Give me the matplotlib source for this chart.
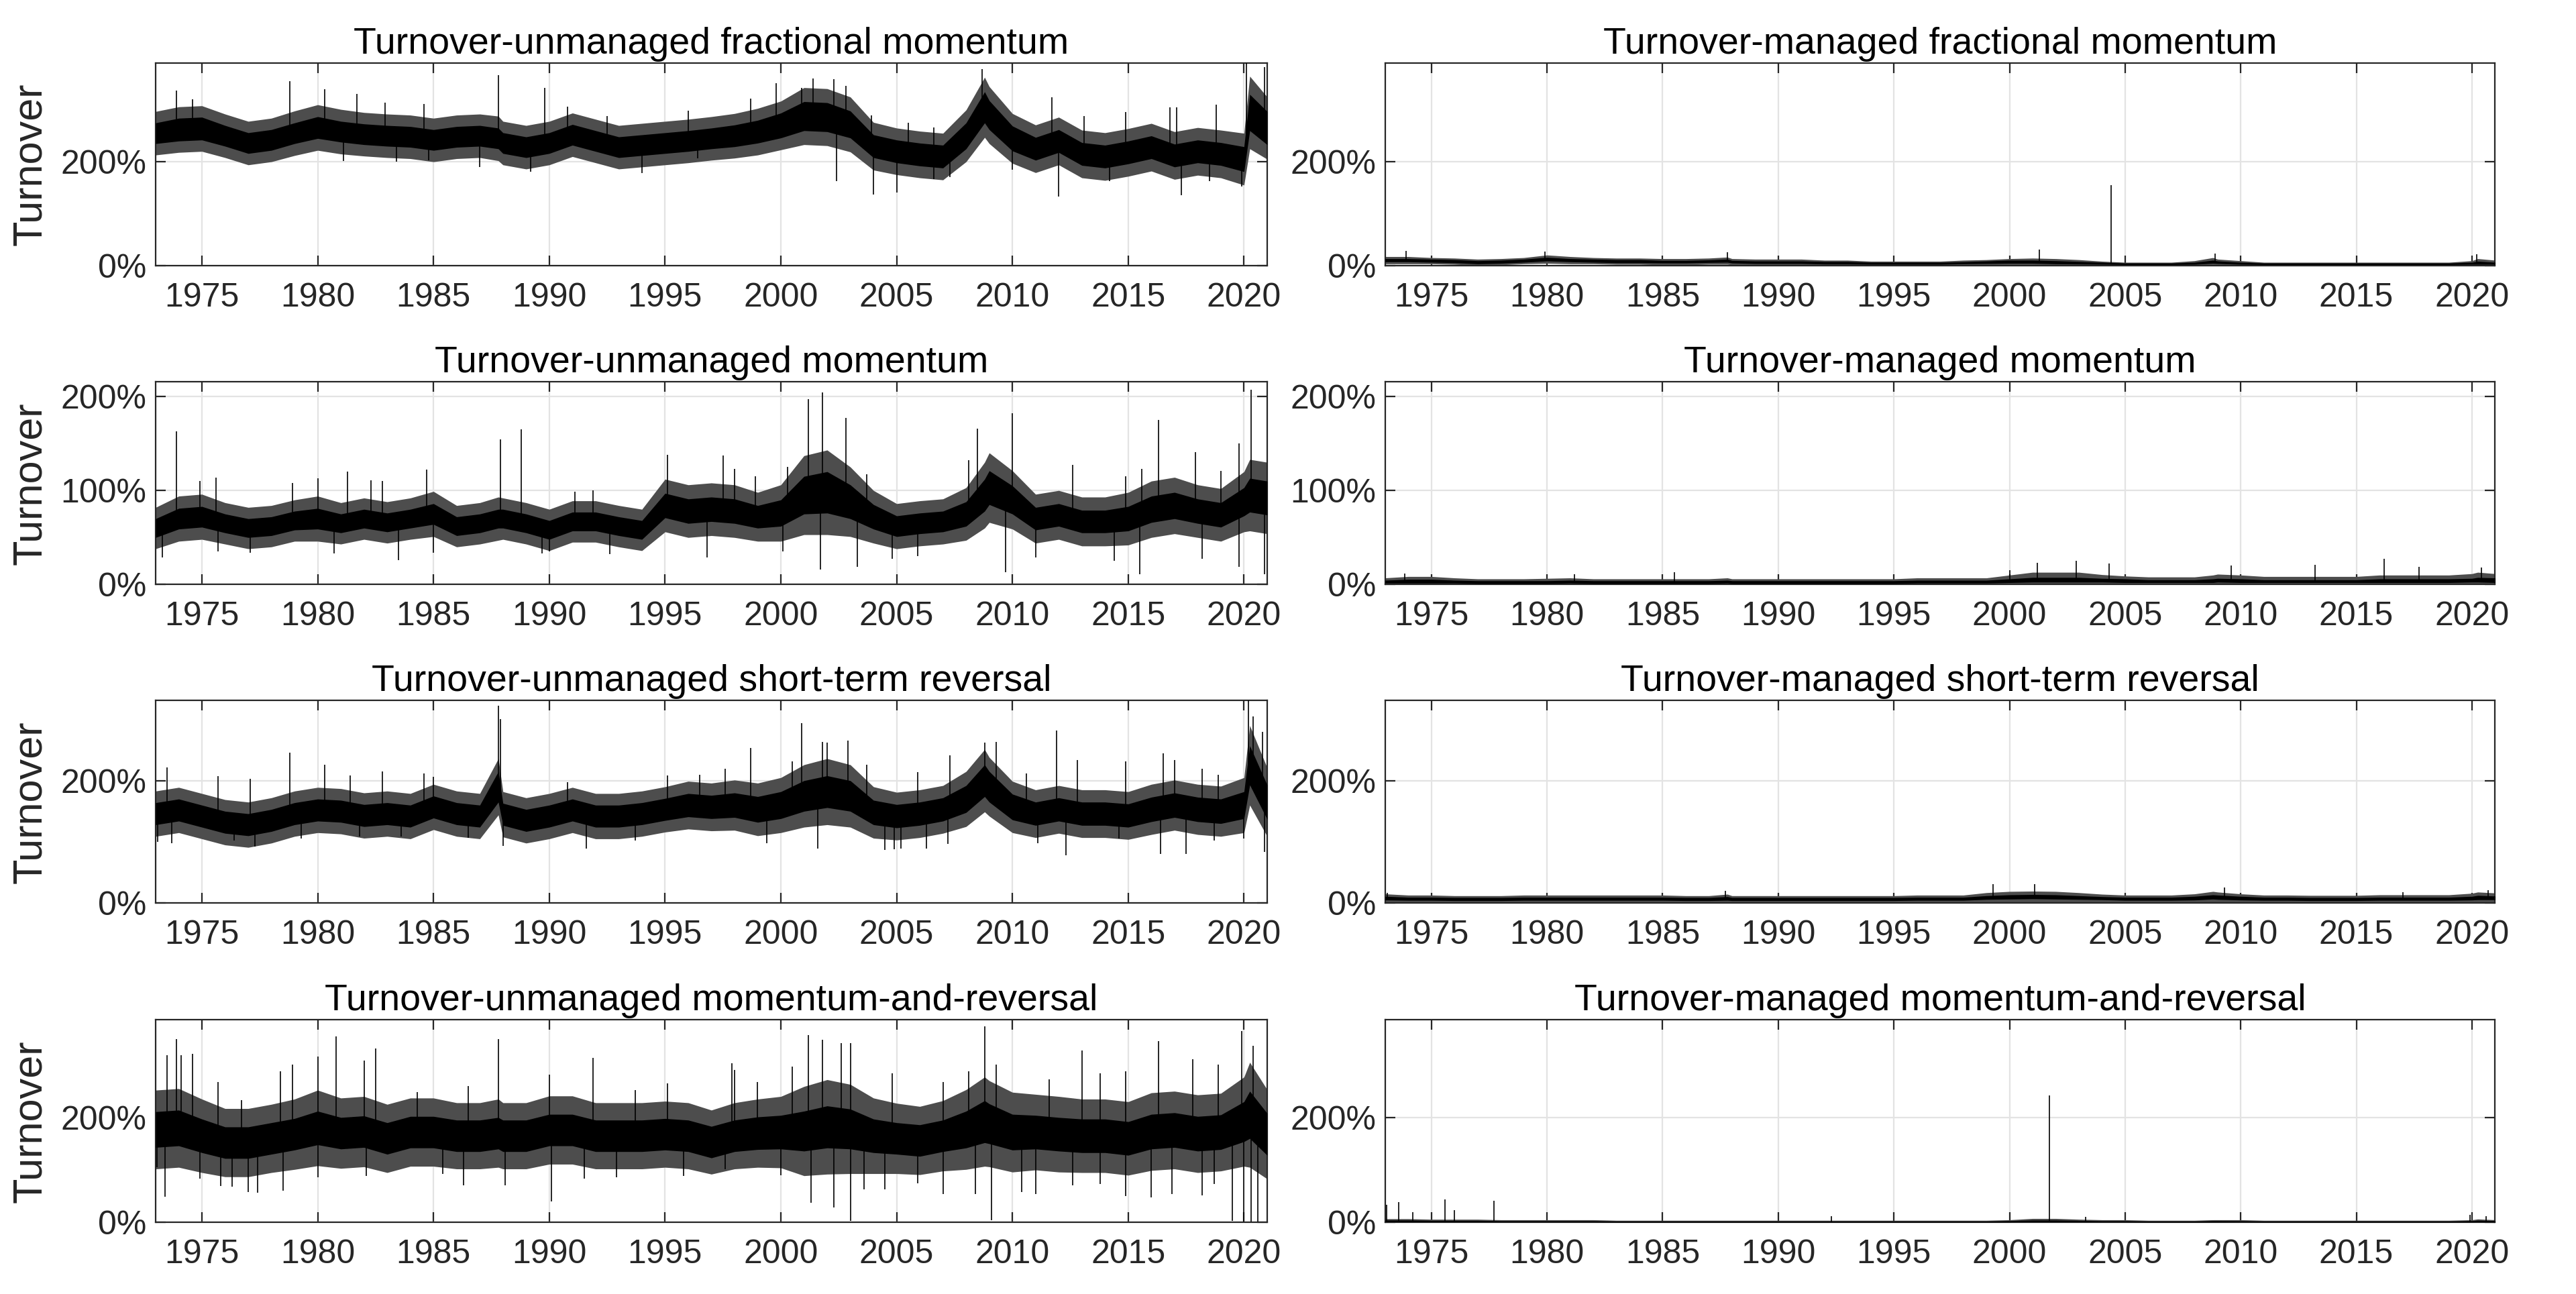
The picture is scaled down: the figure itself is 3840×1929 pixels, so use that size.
import numpy as np
import matplotlib
matplotlib.use("Agg")
import matplotlib.pyplot as plt
from matplotlib.ticker import FuncFormatter

plt.rcParams["font.family"] = ["Liberation Sans", "DejaVu Sans"]

# ---------------------------------------------------------------------------
# Data: band centre / half-widths (turnover, %) at
# the knots below, plus isolated daily spikes as (year, base, top).
# ---------------------------------------------------------------------------
KNOTS = [1973, 1974, 1975, 1976, 1977, 1978, 1979, 1980, 1981, 1982,
         1983, 1984, 1985, 1986, 1987, 1987.8, 1988, 1989, 1990, 1991,
         1992, 1993, 1994, 1995, 1996, 1997, 1998, 1999, 2000, 2001,
         2002, 2003, 2004, 2005, 2006, 2007, 2008, 2008.8, 2009, 2010,
         2011, 2012, 2013, 2014, 2015, 2016, 2017, 2018, 2019, 2020,
         2020.25, 2021]

# -- fractional momentum, unmanaged
FRAC_MID = [255, 262, 264, 250, 236, 242, 255, 266, 258, 253,
            250, 248, 242, 248, 250, 245, 236, 228, 236, 252,
            240, 228, 232, 236, 240, 245, 250, 258, 270, 288,
            286, 272, 230, 220, 214, 210, 250, 305, 290, 245,
            225, 240, 215, 210, 218, 228, 212, 220, 215, 205,
            295, 265]
FRAC_CORE = [20, 22, 22, 20, 20, 20, 20, 21, 20, 20,
             20, 20, 20, 20, 20, 20, 20, 20, 20, 20,
             20, 20, 20, 20, 20, 20, 21, 22, 24, 28,
             28, 26, 22, 22, 22, 22, 25, 30, 28, 24,
             22, 22, 22, 22, 22, 22, 22, 22, 22, 24,
             35, 32]
FRAC_EDGE = [42, 44, 44, 42, 42, 42, 43, 44, 43, 42,
             42, 42, 42, 42, 42, 43, 42, 42, 42, 42,
             42, 42, 42, 42, 42, 42, 43, 45, 47, 55,
             55, 53, 46, 45, 45, 45, 50, 58, 55, 48,
             46, 46, 46, 46, 46, 46, 46, 46, 46, 50,
             70, 60]
FRAC_SPIKES = [(1973.9, 262, 338), (1974.6, 262, 320), (1978.8, 250, 355),
               (1980.3, 266, 340), (1981.7, 258, 331), (1982.9, 253, 314),
               (1984.6, 248, 312), (1987.8, 245, 367), (1989.8, 232, 343),
               (1990.8, 236, 306), (1992.5, 240, 288), (1996.0, 240, 298),
               (1998.7, 250, 322), (1999.8, 262, 352), (2000.9, 270, 342),
               (2001.4, 288, 361), (2002.3, 286, 360), (2002.8, 278, 346),
               (2003.9, 240, 289), (2005.5, 220, 275), (2006.6, 214, 266),
               (2008.7, 300, 379), (2011.7, 230, 324), (2013.1, 215, 288),
               (2014.9, 215, 296), (2016.8, 228, 305), (2017.1, 212, 305),
               (2018.8, 218, 310), (2020.1, 220, 391), (2020.9, 265, 383),
               (1981.1, 258, 202), (1983.4, 250, 200), (1984.8, 248, 203),
               (1987.0, 250, 190), (1989.2, 228, 181), (1994.0, 232, 178),
               (1996.4, 240, 206), (2002.4, 286, 162), (2004.0, 230, 137),
               (2005.0, 220, 140), (2006.6, 214, 167), (2007.3, 210, 171),
               (2010.0, 245, 184), (2012.0, 240, 133), (2014.2, 210, 162),
               (2017.3, 212, 136), (2018.5, 220, 162), (2019.9, 215, 152)]

# -- momentum, unmanaged
MOM_MID = [60, 70, 72, 65, 60, 62, 68, 70, 65, 70,
           66, 70, 75, 62, 65, 70, 70, 65, 58, 67,
           67, 62, 58, 84, 78, 80, 78, 72, 76, 95,
           98, 88, 72, 62, 65, 67, 75, 95, 103, 90,
           70, 74, 67, 67, 70, 80, 84, 78, 74, 88,
           95, 92]
MOM_CORE = [10, 11, 11, 10, 10, 10, 10, 11, 10, 10,
            10, 10, 11, 10, 10, 10, 10, 10, 10, 10,
            10, 10, 10, 13, 13, 13, 13, 12, 14, 20,
            22, 18, 13, 11, 11, 11, 13, 17, 18, 15,
            12, 12, 12, 12, 13, 14, 14, 13, 13, 15,
            18, 18]
MOM_EDGE = [22, 24, 24, 22, 22, 22, 22, 24, 22, 22,
            22, 22, 24, 22, 22, 23, 22, 22, 22, 22,
            22, 22, 22, 28, 28, 28, 28, 26, 30, 42,
            45, 37, 28, 24, 24, 24, 28, 35, 37, 31,
            26, 26, 26, 26, 28, 30, 30, 28, 28, 32,
            38, 38]
MOM_SPIKES = [(1973.9, 65, 163), (1974.9, 72, 110), (1975.6, 72, 114),
              (1978.9, 66, 108), (1980.0, 70, 113), (1981.3, 66, 120),
              (1982.3, 70, 111), (1982.8, 68, 110), (1984.7, 72, 122),
              (1987.9, 68, 154), (1988.8, 66, 165), (1991.1, 67, 99),
              (1991.9, 67, 100), (1995.1, 84, 138), (1997.5, 80, 137),
              (1998.0, 78, 123), (1998.9, 74, 115), (2000.3, 78, 125),
              (2001.2, 95, 197), (2001.8, 97, 204), (2002.8, 92, 177),
              (2003.7, 80, 117), (2008.1, 76, 132), (2008.5, 95, 166),
              (2010.0, 92, 182), (2012.6, 72, 127), (2014.9, 70, 115),
              (2015.6, 74, 123), (2016.3, 80, 175), (2017.9, 82, 141),
              (2019.0, 76, 121), (2019.8, 80, 150), (2020.3, 95, 207),
              (1973.3, 62, 29), (1975.7, 70, 35), (1977.1, 60, 34),
              (1980.7, 68, 33), (1983.5, 66, 26), (1985.0, 72, 34),
              (1989.7, 62, 33), (1990.0, 58, 35), (1992.6, 65, 32),
              (1996.8, 79, 29), (2000.1, 76, 35), (2001.7, 95, 16),
              (2003.3, 88, 19), (2004.8, 64, 27), (2005.9, 64, 30),
              (2009.7, 100, 13), (2011.0, 70, 29), (2014.4, 67, 25),
              (2015.5, 70, 11), (2018.2, 78, 27), (2019.8, 74, 19),
              (2020.9, 92, 11)]

# -- short-term reversal, unmanaged
STR_MID = [146, 152, 142, 132, 128, 135, 146, 152, 150, 143,
           146, 142, 157, 146, 142, 190, 145, 135, 142, 152,
           142, 142, 146, 153, 160, 157, 160, 153, 160, 175,
           182, 175, 148, 142, 146, 153, 170, 200, 190, 157,
           146, 153, 146, 146, 143, 153, 160, 153, 150, 160,
           225, 165]
STR_CORE = [18, 18, 18, 18, 18, 18, 18, 18, 18, 18,
            18, 18, 18, 18, 18, 25, 18, 18, 18, 18,
            18, 18, 18, 18, 19, 19, 20, 21, 22, 25,
            26, 25, 20, 19, 19, 19, 22, 26, 25, 21,
            19, 19, 19, 19, 19, 20, 20, 20, 20, 22,
            32, 28]
STR_EDGE = [37, 37, 37, 37, 37, 37, 37, 37, 37, 37,
            37, 37, 37, 37, 37, 46, 37, 37, 37, 37,
            37, 37, 37, 37, 39, 39, 41, 43, 45, 51,
            54, 51, 42, 39, 39, 39, 45, 51, 48, 42,
            39, 39, 39, 39, 39, 41, 41, 41, 41, 45,
            65, 56]
STR_SPIKES = [(1973.5, 146, 222), (1975.7, 142, 207), (1977.1, 128, 203),
              (1978.8, 138, 246), (1980.3, 152, 226), (1981.4, 150, 208),
              (1982.8, 143, 215), (1984.6, 142, 212), (1985.0, 157, 206),
              (1987.8, 190, 322), (1987.9, 185, 300), (1990.8, 148, 197),
              (1995.1, 153, 208), (1996.5, 158, 210), (1997.6, 158, 219),
              (1998.7, 160, 253), (2000.5, 165, 232), (2000.9, 165, 294),
              (2001.8, 180, 263), (2002.0, 182, 262), (2002.9, 178, 265),
              (2003.7, 160, 226), (2005.9, 144, 214), (2007.3, 160, 241),
              (2008.8, 200, 262), (2009.3, 185, 263), (2010.6, 155, 212),
              (2011.9, 153, 282), (2012.8, 148, 234), (2014.9, 145, 232),
              (2016.5, 153, 245), (2017.0, 160, 234), (2018.2, 155, 219),
              (2018.9, 152, 210), (2020.2, 225, 331), (2020.4, 225, 305),
              (2020.8, 165, 280),
              (1973.1, 146, 100), (1973.7, 150, 98), (1976.4, 132, 102),
              (1977.3, 128, 92), (1979.3, 146, 106), (1981.8, 145, 109),
              (1983.6, 144, 109), (1986.5, 144, 107), (1988.0, 145, 93),
              (1991.6, 152, 89), (1993.7, 144, 102), (1999.4, 155, 98),
              (2001.6, 178, 89), (2004.5, 146, 87), (2004.9, 142, 88),
              (2005.2, 143, 89), (2006.3, 146, 89), (2007.2, 153, 97),
              (2011.1, 146, 98), (2012.3, 153, 78), (2014.6, 146, 106),
              (2016.4, 153, 80), (2017.5, 160, 80), (2018.7, 152, 102),
              (2020.0, 160, 106), (2020.9, 165, 84)]

# -- momentum-and-reversal, unmanaged
MR_MID = [177, 180, 165, 152, 152, 160, 168, 180, 170, 173,
          160, 172, 172, 165, 165, 170, 165, 165, 176, 176,
          165, 165, 165, 168, 165, 153, 165, 170, 172, 174,
          182, 178, 165, 160, 156, 165, 177, 192, 188, 172,
          172, 168, 165, 165, 160, 173, 176, 169, 172, 192,
          205, 168]
MR_CORE = [34, 34, 32, 30, 30, 30, 30, 32, 30, 30,
           30, 30, 30, 30, 30, 30, 30, 30, 30, 30,
           30, 30, 30, 30, 30, 30, 30, 31, 32, 38,
           40, 38, 32, 30, 30, 30, 35, 40, 38, 34,
           32, 32, 32, 32, 32, 33, 33, 33, 33, 38,
           45, 40]
MR_EDGE = [75, 75, 70, 65, 65, 65, 67, 72, 67, 67,
           65, 65, 65, 63, 63, 65, 63, 63, 65, 65,
           63, 63, 63, 63, 63, 61, 63, 65, 68, 85,
           90, 85, 72, 67, 65, 67, 76, 85, 82, 76,
           72, 72, 70, 70, 70, 74, 74, 74, 74, 85,
           100, 85]
MR_SPIKES = [(1973.5, 177, 319), (1973.9, 178, 349), (1974.1, 180, 318),
             (1974.6, 178, 321), (1975.7, 165, 267), (1976.7, 152, 233),
             (1978.4, 160, 288), (1978.9, 165, 301), (1980.0, 180, 316),
             (1980.8, 180, 354), (1982.0, 173, 309), (1982.5, 172, 331),
             (1984.3, 172, 248), (1986.5, 165, 260), (1987.8, 168, 349),
             (1990.0, 176, 281), (1991.9, 176, 314), (1993.7, 165, 252),
             (1995.1, 168, 265), (1997.9, 160, 303), (1998.0, 165, 290),
             (1999.0, 170, 267), (2000.5, 172, 297), (2001.2, 174, 357),
             (2001.8, 178, 348), (2002.6, 182, 342), (2003.0, 178, 341),
             (2004.8, 162, 284), (2007.0, 165, 267), (2008.1, 178, 288),
             (2008.8, 192, 373), (2009.3, 186, 301), (2011.6, 170, 273),
             (2013.0, 165, 327), (2013.8, 165, 284), (2014.9, 162, 288),
             (2016.3, 173, 346), (2017.8, 172, 311), (2018.9, 172, 301),
             (2019.9, 192, 364), (2020.4, 205, 337),
             (1973.05, 177, 105), (1973.4, 177, 49), (1974.9, 168, 84),
             (1975.8, 160, 69), (1976.3, 152, 68), (1977.0, 152, 58),
             (1977.4, 152, 57), (1978.5, 163, 60), (1980.0, 180, 86),
             (1982.1, 173, 88), (1985.4, 170, 92), (1986.3, 165, 71),
             (1988.1, 165, 71), (1990.1, 176, 40), (1991.5, 176, 84),
             (1992.9, 165, 86), (1995.8, 166, 88), (1997.6, 160, 101),
             (2000.0, 172, 90), (2001.3, 174, 37), (2002.3, 182, 28),
             (2003.0, 178, 3), (2003.6, 172, 63), (2004.5, 165, 63),
             (2005.9, 157, 75), (2007.0, 165, 54), (2008.4, 185, 54),
             (2009.1, 188, 4), (2010.4, 172, 58), (2011.0, 172, 54),
             (2012.6, 167, 71), (2013.8, 165, 73), (2014.9, 162, 50),
             (2016.0, 173, 48), (2016.9, 175, 54), (2018.2, 170, 52),
             (2018.7, 170, 73), (2019.5, 172, 3), (2020.0, 192, 2),
             (2020.3, 205, 2), (2020.6, 190, 2)]

# -- fractional momentum, turnover-managed
FRAC_M_MID = [10, 10, 9, 8, 6, 7, 9, 12, 10, 9,
              8, 8, 7, 7, 8, 9, 7, 6, 6, 6,
              5, 5, 4, 4, 4, 4, 5, 6, 7, 7,
              6, 5, 4, 3, 3, 3, 4, 7, 6, 4,
              3, 3, 3, 3, 3, 3, 3, 3, 3, 4,
              5, 4]
FRAC_M_CORE = [3, 3, 3, 3, 3, 3, 3, 3.5, 3, 3,
               3, 3, 2.5, 2.5, 2.5, 3, 2.5, 2.5, 2.5, 2.5,
               2.5, 2.5, 2, 2, 2, 2, 2, 2.5, 3, 3,
               3, 2.5, 2, 1.5, 1.5, 1.5, 2, 3, 2.5, 2,
               1.5, 1.5, 1.5, 1.5, 1.5, 1.5, 1.5, 1.5, 1.5, 2,
               3, 2]
FRAC_M_EDGE = [7, 7, 6, 6, 6, 6, 6, 8, 7, 6,
               6, 6, 6, 6, 6, 7, 6, 6, 6, 6,
               5, 5, 4, 4, 4, 4, 5, 5, 6, 7,
               7, 6, 4, 3, 3, 3, 5, 8, 6, 5,
               3, 3, 3, 3, 3, 3, 3, 3, 3, 5,
               8, 6]
FRAC_M_SPIKES = [(1973.9, 10, 28), (1979.9, 12, 27), (1987.8, 8, 25),
                 (2001.3, 7, 30), (2004.4, 4, 155), (2008.9, 6, 23),
                 (2020.2, 4, 22)]

# -- momentum, turnover-managed
MOM_M_MID = [3, 3.5, 3.5, 3, 2.5, 2.5, 2.5, 2.5, 3, 2.5,
             2.5, 2.5, 2.5, 2.5, 2.5, 3, 2.5, 2.5, 2.5, 2.5,
             2.5, 2.5, 2.5, 2.5, 3, 3, 3, 3, 4, 5,
             5, 5, 4.5, 4, 3.5, 3.5, 3.5, 4, 4.5, 4,
             3.5, 3.5, 3.5, 3.5, 3.5, 4, 4, 4, 4, 4.5,
             5, 4.5]
MOM_M_CORE = [1.5, 2, 2, 1.5, 1.5, 1.5, 1.5, 1.5, 1.5, 1.5,
              1.5, 1.5, 1.5, 1.5, 1.5, 1.5, 1.5, 1.5, 1.5, 1.5,
              1.5, 1.5, 1.5, 1.5, 1.5, 1.5, 1.5, 1.5, 2, 2.5,
              2.5, 2.5, 2, 2, 1.5, 1.5, 1.5, 2, 2, 2,
              1.5, 1.5, 1.5, 1.5, 1.5, 2, 2, 2, 2, 2,
              2.5, 2.5]
MOM_M_EDGE = [4, 5, 5, 4, 3.5, 3.5, 3.5, 4, 4, 3.5,
              3.5, 3.5, 3.5, 3.5, 3.5, 4, 3.5, 3.5, 3.5, 3.5,
              3.5, 3.5, 3.5, 3.5, 4, 4, 4, 4, 6, 8,
              8, 8, 6, 5, 4.5, 4.5, 4.5, 6, 6.5, 6,
              5, 5, 5, 5, 5, 6, 6, 6, 6, 7,
              8, 7]
MOM_M_SPIKES = [(1973.85, 3, 12), (1981.2, 2.5, 11), (1985.5, 2.5, 13),
                (2000.0, 4, 15), (2001.2, 5, 23), (2002.9, 5, 25),
                (2004.3, 4.5, 22), (2009.6, 4.5, 20), (2013.2, 3.5, 21),
                (2016.2, 4, 27), (2017.7, 4, 19), (2020.4, 4.5, 18)]

# -- short-term reversal, turnover-managed
STR_M_MID = [8, 7, 7, 6.5, 6.5, 6.5, 7, 7, 7, 7,
             7, 7, 7, 6.5, 6.5, 7.5, 6.5, 6.5, 6.5, 6.5,
             6.5, 6.5, 6.5, 6.5, 7, 7, 7, 9, 10, 10.5,
             10, 9, 8, 7, 7, 7, 8, 10, 9.5, 8,
             7, 7, 6.5, 6.5, 6.5, 7, 7, 7, 7, 8,
             9, 8.5]
STR_M_CORE = [3, 2.5, 2.5, 2.5, 2.5, 2.5, 2.5, 2.5, 2.5, 2.5,
              2.5, 2.5, 2.5, 2.5, 2.5, 3, 2.5, 2.5, 2.5, 2.5,
              2.5, 2.5, 2.5, 2.5, 2.5, 2.5, 2.5, 3, 3.5, 3.5,
              3.5, 3, 2.5, 2.5, 2.5, 2.5, 3, 3.5, 3.5, 3,
              2.5, 2.5, 2.5, 2.5, 2.5, 2.5, 2.5, 2.5, 2.5, 3,
              3.5, 3]
STR_M_EDGE = [7, 6, 6, 5.5, 5.5, 5.5, 6, 6, 6, 6,
              6, 6, 6, 5.5, 5.5, 7, 5.5, 5.5, 5.5, 5.5,
              5.5, 5.5, 5.5, 5.5, 6, 6, 6, 8, 9, 9,
              9, 8, 6.5, 6, 6, 6, 7, 9, 8.5, 7,
              6, 6, 6, 6, 6, 6.5, 6.5, 6.5, 6.5, 8,
              9, 8]
STR_M_SPIKES = [(1973.1, 8, 17), (1987.7, 7, 20), (1999.3, 9, 31),
                (2001.1, 10, 31), (2009.3, 9, 26), (2017.0, 7, 18),
                (2020.7, 8, 21)]

# -- momentum-and-reversal, turnover-managed
MR_M_MID = [3, 3, 2.5, 2.5, 2.5, 2, 2, 2, 2, 2,
            1.5, 1.5, 1.5, 1.5, 1.5, 1.5, 1.5, 1.5, 1.5, 1.5,
            1.5, 1.5, 1.5, 1.5, 1.5, 1.5, 1.5, 1.5, 2, 3,
            3, 2.5, 2, 2, 1.5, 1.5, 1.5, 2, 2, 2,
            1.5, 1.5, 1.5, 1.5, 1.5, 1.5, 1.5, 1.5, 1.5, 2,
            2.5, 2]
MR_M_CORE = [1.5, 1.5, 1.2, 1.2, 1.2, 1, 1, 1, 1, 1,
             1, 1, 1, 1, 1, 1, 1, 1, 1, 1,
             1, 1, 1, 1, 1, 1, 1, 1, 1.2, 1.5,
             1.5, 1.2, 1, 1, 1, 1, 1, 1.2, 1.2, 1,
             1, 1, 1, 1, 1, 1, 1, 1, 1, 1.2,
             1.5, 1.2]
MR_M_EDGE = [4, 4, 3.5, 3.5, 3.5, 3, 3, 3, 3, 3,
             2.5, 2.5, 2.5, 2.5, 2.5, 2.5, 2.5, 2.5, 2.5, 2.5,
             2.5, 2.5, 2.5, 2.5, 2.5, 2.5, 2.5, 2.5, 3, 4.5,
             4.5, 3.5, 3, 3, 2.5, 2.5, 2.5, 3, 3, 3,
             2.5, 2.5, 2.5, 2.5, 2.5, 2.5, 2.5, 2.5, 2.5, 3,
             4, 3]
MR_M_SPIKES = [(1973.07, 3, 34), (1973.6, 3, 39), (1974.2, 3, 20),
               (1975.6, 2.5, 44), (1976.0, 2.5, 23), (1977.7, 2.5, 41),
               (1992.3, 1.5, 12), (2001.73, 3, 242), (2003.3, 2.5, 11),
               (2019.9, 1.5, 15), (2020.6, 2, 12)]

TITLES_LEFT = ["Turnover-unmanaged fractional momentum",
               "Turnover-unmanaged momentum",
               "Turnover-unmanaged short-term reversal",
               "Turnover-unmanaged momentum-and-reversal"]
TITLES_RIGHT = ["Turnover-managed fractional momentum",
                "Turnover-managed momentum",
                "Turnover-managed short-term reversal",
                "Turnover-managed momentum-and-reversal"]
YMAX = [391, 215.5, 331, 386]
YTICKS = [[0, 200], [0, 100, 200], [0, 200], [0, 200]]
XTICKS = [1975, 1980, 1985, 1990, 1995, 2000, 2005, 2010, 2015, 2020]

LEFT_SERIES = [(FRAC_MID, FRAC_CORE, FRAC_EDGE, FRAC_SPIKES),
               (MOM_MID, MOM_CORE, MOM_EDGE, MOM_SPIKES),
               (STR_MID, STR_CORE, STR_EDGE, STR_SPIKES),
               (MR_MID, MR_CORE, MR_EDGE, MR_SPIKES)]
RIGHT_SERIES = [(FRAC_M_MID, FRAC_M_CORE, FRAC_M_EDGE, FRAC_M_SPIKES),
                (MOM_M_MID, MOM_M_CORE, MOM_M_EDGE, MOM_M_SPIKES),
                (STR_M_MID, STR_M_CORE, STR_M_EDGE, STR_M_SPIKES),
                (MR_M_MID, MR_M_CORE, MR_M_EDGE, MR_M_SPIKES)]

AX_COL = "#262626"
GRID_COL = "#e3e3e3"


def draw_band(ax, mid, core, edge, spikes):
    x = np.asarray(KNOTS, dtype=float)
    mid, core, edge = (np.asarray(a, dtype=float) for a in (mid, core, edge))
    ax.fill_between(x, np.clip(mid - edge, 0, None), mid + edge,
                    color="0.3", lw=0, zorder=2)
    ax.fill_between(x, np.clip(mid - core, 0, None), mid + core,
                    color="black", lw=0, zorder=3)
    sx, sb, st = zip(*spikes)
    ax.vlines(sx, sb, st, color="black", lw=0.6, zorder=3)


def style_axes(ax, row, title, ylabel):
    ax.set_xlim(1973.0, 2021.0)
    ax.set_ylim(0, YMAX[row])
    ax.set_xticks(XTICKS)
    ax.set_yticks(YTICKS[row])
    ax.yaxis.set_major_formatter(FuncFormatter(lambda v, p: f"{v:.0f}%"))
    ax.grid(True, color=GRID_COL, lw=0.8, zorder=0)
    ax.set_axisbelow(True)
    ax.tick_params(direction="in", length=5.5, width=0.8, colors=AX_COL,
                   labelsize=18, top=True, right=True)
    ax.tick_params(axis="x", pad=9)
    ax.tick_params(axis="y", pad=5)
    for s in ax.spines.values():
        s.set_color(AX_COL)
        s.set_linewidth(0.8)
    ax.set_title(title, fontsize=20, pad=5, color="black")
    if ylabel:
        ax.set_ylabel("Turnover", fontsize=22, color=AX_COL)
        ax.yaxis.set_label_coords(-0.095, 0.5)


fig = plt.figure(figsize=(19.2, 9.645), dpi=200)
BOTTOMS = [0.7949, 0.5483, 0.3021, 0.0553]
H = 0.1566

for row in range(4):
    axl = fig.add_axes([0.0604, BOTTOMS[row], 0.4315, H])
    draw_band(axl, *LEFT_SERIES[row])
    style_axes(axl, row, TITLES_LEFT[row], True)

    axr = fig.add_axes([0.5377, BOTTOMS[row], 0.4309, H])
    draw_band(axr, *RIGHT_SERIES[row])
    style_axes(axr, row, TITLES_RIGHT[row], False)

fig.savefig("out.png", dpi=200)
